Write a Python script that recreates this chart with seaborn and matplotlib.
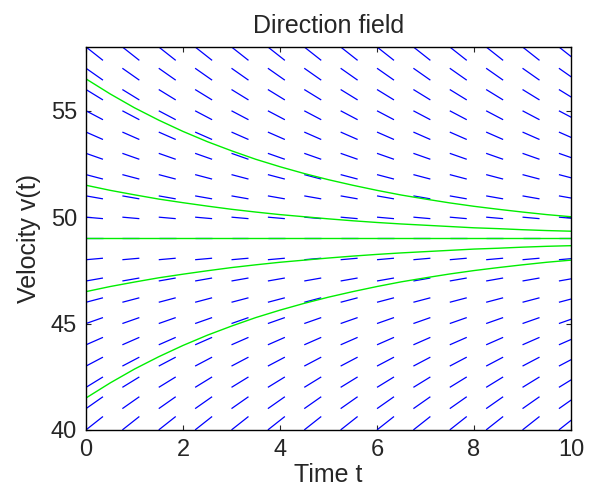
import numpy as np
import pandas as pd
import matplotlib
matplotlib.use("Agg")
import matplotlib.pyplot as plt
import seaborn as sns
from matplotlib.collections import LineCollection

# Direction field grid
t_grid = [0, 0.75, 1.5, 2.25, 3, 3.75, 4.5, 5.25, 6, 6.75, 7.5, 8.25, 9, 9.75]
v_grid = [40, 41, 42, 43, 44, 45, 46, 47, 48, 49, 50, 51, 52, 53, 54, 55, 56, 57, 58]
slopes = [1.8, 1.6, 1.4, 1.2, 1.0, 0.8, 0.6, 0.4, 0.2, 0.0,
          -0.2, -0.4, -0.6, -0.8, -1.0, -1.2, -1.4, -1.6, -1.8]
seg_dx = 0.35

t_curve = [0, 0.5, 1, 1.5, 2, 2.5, 3, 3.5, 4, 4.5, 5, 5.5, 6, 6.5, 7, 7.5, 8, 8.5, 9, 9.5, 10]
curve_a = [56.50, 55.79, 55.14, 54.56, 54.03, 53.55, 53.12, 52.72, 52.37, 52.05, 51.76,
           51.50, 51.26, 51.04, 50.85, 50.67, 50.51, 50.37, 50.24, 50.12, 50.02]
curve_b = [51.50, 51.26, 51.05, 50.85, 50.68, 50.52, 50.37, 50.24, 50.12, 50.02, 49.92,
           49.83, 49.75, 49.68, 49.62, 49.56, 49.50, 49.46, 49.41, 49.37, 49.34]
curve_c = [49.0] * 21
curve_d = [46.50, 46.74, 46.95, 47.15, 47.32, 47.48, 47.63, 47.76, 47.88, 47.98, 48.08,
           48.17, 48.25, 48.32, 48.38, 48.44, 48.50, 48.54, 48.59, 48.63, 48.66]
curve_e = [41.50, 42.21, 42.86, 43.44, 43.97, 44.45, 44.88, 45.28, 45.63, 45.95, 46.24,
           46.50, 46.74, 46.96, 47.15, 47.33, 47.49, 47.63, 47.76, 47.88, 47.98]

sns.set_style("ticks")
plt.rcParams["font.family"] = ["Liberation Sans", "DejaVu Sans"]
plt.rcParams["xtick.direction"] = "in"
plt.rcParams["ytick.direction"] = "in"

fig = plt.figure(figsize=(5.89, 4.97), dpi=100)
ax = fig.add_axes([0.146, 0.135, 0.8235, 0.7705])

# blue slope segments
segs = []
for v, s in zip(v_grid, slopes):
    for t in t_grid:
        segs.append([(t, v), (t + seg_dx, v + s * seg_dx)])
ax.add_collection(LineCollection(segs, colors="#0000ff", linewidths=0.9))

n = len(t_curve)
curves = pd.DataFrame({"t": t_curve * 5,
                       "v": curve_a + curve_b + curve_c + curve_d + curve_e,
                       "c": ["a"] * n + ["b"] * n + ["c"] * n + ["d"] * n + ["e"] * n})
sns.lineplot(data=curves, x="t", y="v", units="c", estimator=None,
             color="#00ee00", linewidth=1.0, ax=ax, legend=False)

ax.set_xlim(0, 10)
ax.set_ylim(40, 58)
ax.set_xticks([0, 2, 4, 6, 8, 10])
ax.set_yticks([40, 45, 50, 55])
ax.tick_params(labelsize=17, length=3.5, width=0.8, top=True, right=True)
ax.tick_params(axis="x", pad=6.3)
ax.tick_params(axis="y", pad=6.5)
for sp in ax.spines.values():
    sp.set_visible(True)
    sp.set_linewidth(1.0)
    sp.set_color("black")
ax.set_xlabel("Time t", fontsize=18, labelpad=1.7)
ax.set_ylabel("Velocity v(t)", fontsize=18, labelpad=7)
ax.set_title("Direction field", fontsize=18, pad=10)

fig.savefig("out.png", dpi=100)
